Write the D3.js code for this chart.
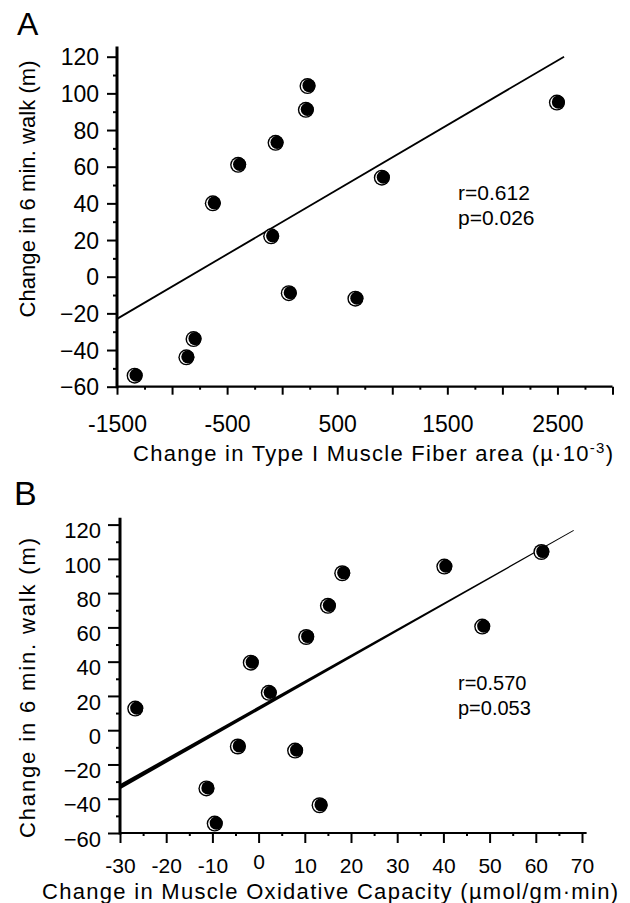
<!DOCTYPE html>
<html lang="en">
<head>
<meta charset="UTF-8">
<title>6 min walk vs muscle change</title>
<script src="https://cdn.jsdelivr.net/npm/d3@7"></script>
<style>
  body { margin: 0; background: #fff; }
  svg { display: block; }
  text { font-family: "Liberation Sans", Arial, Helvetica, sans-serif; fill: #000; }
  .axis line { stroke: #000; stroke-width: 2px; }
  .axis text { font-family: "Liberation Sans", Arial, Helvetica, sans-serif; fill: #000; }
</style>
</head>
<body>
<svg id="fig" width="630" height="903"></svg>
<script>
// ---------- data ----------
// panel A: change in type I fibre area vs change in 6 min walk
var fiberArea = [230, 215, -60, -400, -630, -100, 60, 665, 905, 2495, -805, -870, -1340];
var walkA     = [104,  91,  73,   61,   40,   22, -9, -12,  54,   95,  -34,  -44,  -54];
var fitA      = [[-1500, -23], [2560, 120]];
var statsA    = ["r=0.612", "p=0.026"];

// panel B: change in muscle oxidative capacity vs change in 6 min walk
var oxCap = [61.2, 40.2, 18.1, 15, 10.3, 48.4, -1.7, 2.2, -26.7, -4.5, 7.9, -11.3, 13.2, -9.5];
var walkB = [104, 95.5, 91.6, 72.6, 54.4, 60.5, 39.4, 21.8, 12.6, -9.5, -11.9, -34, -43.8, -54.5];
var fitB   = [[-30, -33], [68.2, 116.6]];
var statsB = ["r=0.570", "p=0.053"];

// ticks
var yMajor  = [-60, -40, -20, 0, 20, 40, 60, 80, 100, 120];
var yMinor  = [-50, -30, -10, 10, 30, 50, 70, 90, 110];
var xMajorA = [-1500, -1000, -500, 0, 500, 1000, 1500, 2000, 2500, 3000];
var xLabelA = [-1500, -500, 500, 1500, 2500];
var xMinorA = [-1250, -750, -250, 250, 750, 1250, 1750, 2250, 2750];
var xMajorB = [-30, -20, -10, 0, 10, 20, 30, 40, 50, 60, 70];
var xMinorB = [-25, -15, -5, 5, 15, 25, 35, 45, 55, 65];

var svg = d3.select("#fig");
svg.append("rect").attr("width", 630).attr("height", 903).attr("fill", "#fff");

// ---------- helpers ----------
function dot(g, cx, cy) {
  // black disc with a thin white crescent, like the printed symbols
  g.append("circle").attr("cx", cx).attr("cy", cy).attr("r", 8).attr("fill", "#000");
  g.append("circle").attr("cx", cx).attr("cy", cy).attr("r", 6.6).attr("fill", "#fff");
  g.append("circle").attr("cx", cx + 1.5).attr("cy", cy - 0.5).attr("r", 6.6).attr("fill", "#000");
}

function drawAxes(o) {
  var g = o.g;
  // y axis
  var ya = g.append("g").attr("class", "axis")
    .attr("transform", "translate(" + o.x.range()[0] + ",0)")
    .call(d3.axisLeft(o.y).tickValues(yMajor).tickSize(o.yTick).tickPadding(o.yPad).tickSizeOuter(0));
  ya.select(".domain").remove();
  ya.selectAll("text").style("font-size", o.yFont + "px").attr("dy", o.yDy);
  var ym = g.append("g").attr("class", "axis")
    .attr("transform", "translate(" + o.x.range()[0] + ",0)")
    .call(d3.axisLeft(o.y).tickValues(yMinor).tickSize(4).tickFormat(""));
  ym.select(".domain").remove();

  // x axis
  var xa = g.append("g").attr("class", "axis")
    .attr("transform", "translate(0," + o.y.range()[0] + ")")
    .call(d3.axisBottom(o.x).tickValues(o.xMajor).tickSize(o.xTick)
      .tickFormat(function(d) { return o.xLabel.indexOf(d) >= 0 ? d : ""; }));
  xa.select(".domain").remove();
  xa.selectAll("text").style("font-size", o.xFont + "px")
    .attr("y", o.xTextY).attr("dy", function(d) { return d === 0 && o.raiseZero ? -4 : 0; });
  var xm = g.append("g").attr("class", "axis")
    .attr("transform", "translate(0," + o.y.range()[0] + ")")
    .call(d3.axisBottom(o.x).tickValues(o.xMinor).tickSize(3).tickFormat(""));
  xm.select(".domain").remove();

  // axis lines
  g.append("line")
    .attr("x1", o.x.range()[0]).attr("x2", o.x.range()[0])
    .attr("y1", o.y.range()[0] + 1.5).attr("y2", o.y(o.yTop))
    .attr("stroke", "#000").attr("stroke-width", 3);
  g.append("line")
    .attr("x1", o.x.range()[0]).attr("x2", o.x(o.xEnd))
    .attr("y1", o.y.range()[0]).attr("y2", o.y.range()[0])
    .attr("stroke", "#000").attr("stroke-width", 2.2);
}

// ---------- panel A ----------
var gA = svg.append("g");
var xA = d3.scaleLinear().domain([-1500, 3000]).range([117, 612.5]);
var yA = d3.scaleLinear().domain([-60, 120]).range([386.7, 56.7]);

drawAxes({ g: gA, x: xA, y: yA, yTick: 10, yPad: 8, yDy: "0.35em", yFont: 23, xFont: 23,
  xMajor: xMajorA, xMinor: xMinorA, xLabel: xLabelA, xTick: 8, xTextY: 45,
  yTop: 125.5, xEnd: 3000 });

gA.append("line")
  .attr("x1", xA(fitA[0][0])).attr("y1", yA(fitA[0][1]))
  .attr("x2", xA(fitA[1][0])).attr("y2", yA(fitA[1][1]))
  .attr("stroke", "#000").attr("stroke-width", 1.8);

fiberArea.forEach(function(v, i) { dot(gA, xA(v), yA(walkA[i])); });

gA.selectAll(".stat").data(statsA).enter().append("text")
  .attr("x", 458).attr("y", function(d, i) { return 200 + i * 25; })
  .style("font-size", "21px").text(function(d) { return d; });

svg.append("text").attr("x", 17).attr("y", 35).style("font-size", "32px").text("A");

svg.append("text")
  .attr("transform", "translate(35,189) rotate(-90)")
  .attr("text-anchor", "middle").style("font-size", "22px")
  .attr("textLength", 257).attr("lengthAdjust", "spacing")
  .text("Change in 6 min. walk (m)");

var tA = svg.append("text").attr("x", 133).attr("y", 461).style("font-size", "22px")
  .attr("textLength", 480).attr("lengthAdjust", "spacing");
tA.append("tspan").text("Change in Type I Muscle Fiber area (\u00b5\u00b710");
tA.append("tspan").attr("dy", -8).style("font-size", "15px").text("-3");
tA.append("tspan").attr("dy", 8).text(")");

// ---------- panel B ----------
var gB = svg.append("g");
var xB = d3.scaleLinear().domain([-30, 70]).range([120, 582]);
var yB = d3.scaleLinear().domain([-60, 120]).range([833, 524.6]);

drawAxes({ g: gB, x: xB, y: yB, yTick: 12, yPad: 7, yDy: "0.6em", yFont: 22, xFont: 21,
  xMajor: xMajorB, xMinor: xMinorB, xLabel: xMajorB, xTick: 10, xTextY: 40,
  yTop: 124, xEnd: 71, raiseZero: true });

// fitted line, heavier at the left end as printed
var p0 = [xB(fitB[0][0]), yB(fitB[0][1])], p1 = [xB(fitB[1][0]), yB(fitB[1][1])];
var dx = p1[0] - p0[0], dy = p1[1] - p0[1], len = Math.sqrt(dx * dx + dy * dy);
var nx = -dy / len, ny = dx / len, w0 = 2.2, w1 = 0.4;
gB.append("path")
  .attr("d", "M" + (p0[0] + nx * w0) + "," + (p0[1] + ny * w0) +
             "L" + (p1[0] + nx * w1) + "," + (p1[1] + ny * w1) +
             "L" + (p1[0] - nx * w1) + "," + (p1[1] - ny * w1) +
             "L" + (p0[0] - nx * w0) + "," + (p0[1] - ny * w0) + "Z")
  .attr("fill", "#000");

oxCap.forEach(function(v, i) { dot(gB, xB(v), yB(walkB[i])); });

gB.selectAll(".stat").data(statsB).enter().append("text")
  .attr("x", 458).attr("y", function(d, i) { return 690 + i * 25; })
  .style("font-size", "20px").text(function(d) { return d; });

svg.append("text").attr("x", 14).attr("y", 505).style("font-size", "34px").text("B");

svg.append("text")
  .attr("transform", "translate(35,688) rotate(-90)")
  .attr("text-anchor", "middle").style("font-size", "22px")
  .attr("textLength", 300).attr("lengthAdjust", "spacing")
  .text("Change in 6 min. walk (m)");

svg.append("text").attr("x", 42).attr("y", 899).style("font-size", "22px")
  .attr("textLength", 576).attr("lengthAdjust", "spacing")
  .text("Change in Muscle Oxidative Capacity (\u00b5mol/gm\u00b7min)");
</script>
</body>
</html>
